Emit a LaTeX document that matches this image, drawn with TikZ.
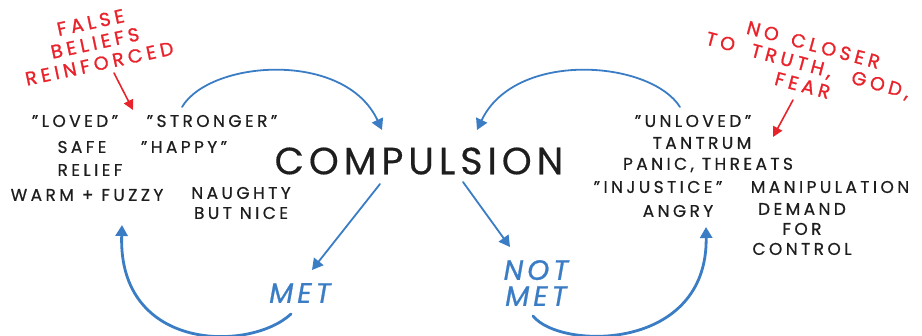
\documentclass[tikz,border=0pt]{standalone}
\usepackage{fontspec}
\setmainfont{Poppins}[LetterSpace=20,FakeBold=0.6]
\newfontfamily\bigfont{Poppins}[LetterSpace=13,FakeBold=0.4]
\newfontfamily\redfont{Poppins}[LetterSpace=22,FakeBold=1.2]
\newfontfamily\bluefont{Poppins}[LetterSpace=14,FakeBold=0.8]
\usetikzlibrary{arrows.meta}
\definecolor{inkblue}{HTML}{3A7DC4}
\definecolor{inkred}{HTML}{E8232B}
\definecolor{ink}{HTML}{1E1E1E}

\begin{document}
\begin{tikzpicture}[x=1pt,y=-1pt,
  word/.style={text=ink,font=\fontsize{17}{20}\selectfont,inner sep=0pt,align=center},
  big/.style={text=ink,font=\bigfont\fontsize{38}{40}\selectfont,inner sep=0pt},
  outcome/.style={text=inkblue,font=\bluefont\fontsize{28}{28}\selectfont\itshape,inner sep=0pt,align=center},
  remark/.style={text=inkred,font=\redfont\fontsize{19}{21}\selectfont,inner sep=0pt,align=center},
  flow/.style={draw=inkblue,line width=1.8pt,line cap=round,
    -{Triangle[length=11pt,width=12pt]}},
  loopback/.style={flow,line width=2.8pt},
  pointer/.style={draw=inkred,line width=1.6pt,line cap=round,
    -{Triangle[length=10pt,width=10pt]}}]
\useasboundingbox (0,0) rectangle (922,336);

% central word
\node[big] (comp) at (419,161) {COMPULSION};

% outcomes
\node[outcome] (met) at (300,293) {MET};
\node[outcome] (notmet) at (536,283) {NOT\\[-2pt]MET};

% feelings when the need is met
\node[word] (loved)    at (75,121)  {"LOVED"};
\node[word] (stronger) at (212,121) {"STRONGER"};
\node[word] (safe)     at (82,147)  {SAFE};
\node[word] (happy)    at (184,147) {"HAPPY"};
\node[word] (relief)   at (90,170)  {RELIEF};
\node[word] (warm)     at (87,195)  {WARM + FUZZY};
\node[word] (naughty)  at (241,203) {NAUGHTY\\BUT NICE};

% feelings when the need is not met
\node[word] (unloved)  at (693,121) {"UNLOVED"};
\node[word] (tantrum)  at (702,143) {TANTRUM};
\node[word] (panic)    at (708,165) {PANIC, THREATS};
\node[word] (injust)   at (658,187) {"INJUSTICE"};
\node[word] (manip)    at (830,187) {MANIPULATION};
\node[word] (angry)    at (678,211) {ANGRY};
\node[word] (demand)   at (802,229) {DEMAND\\FOR\\CONTROL};

% red side notes
\node[remark,rotate=12] (falseb) at (95,43) {FALSE\\BELIEFS\\REINFORCED};
\node[remark,rotate=-15] (closer) at (808,65)
  {NO\hspace{4pt} CLOSER\\TO\hspace{8pt} TRUTH,\hspace{12pt} GOD,\\FEAR};

% connector end points
\coordinate (ulA) at (182,107);
\coordinate (ulB) at (382,130);
\coordinate (urA) at (680,107);
\coordinate (urB) at (477,130);
\coordinate (dlA) at (380,184);
\coordinate (dlB) at (312,270);
\coordinate (drA) at (463,182);
\coordinate (drB) at (510,247);
\coordinate (blA) at (291,314);
\coordinate (blB) at (122,225);
\coordinate (brA) at (533,316);
\coordinate (brB) at (706,227);
\coordinate (rlA) at (114,73);
\coordinate (rlB) at (133,110);
\coordinate (rrA) at (793,100);
\coordinate (rrB) at (773,137);

% the loop
\draw[flow] (ulA) .. controls (210,60) and (345,50) .. (ulB);
\draw[flow] (urA) .. controls (650,60) and (515,50) .. (urB);
\draw[flow] (dlA) -- (dlB);
\draw[flow] (drA) -- (drB);
\draw[loopback] (blA) .. controls (250,352) and (118,352) .. (blB);
\draw[loopback] (brA) .. controls (560,350) and (708,352) .. (brB);

% note pointers
\draw[pointer] (rlA) -- (rlB);
\draw[pointer] (rrA) -- (rrB);
\end{tikzpicture}
\end{document}
